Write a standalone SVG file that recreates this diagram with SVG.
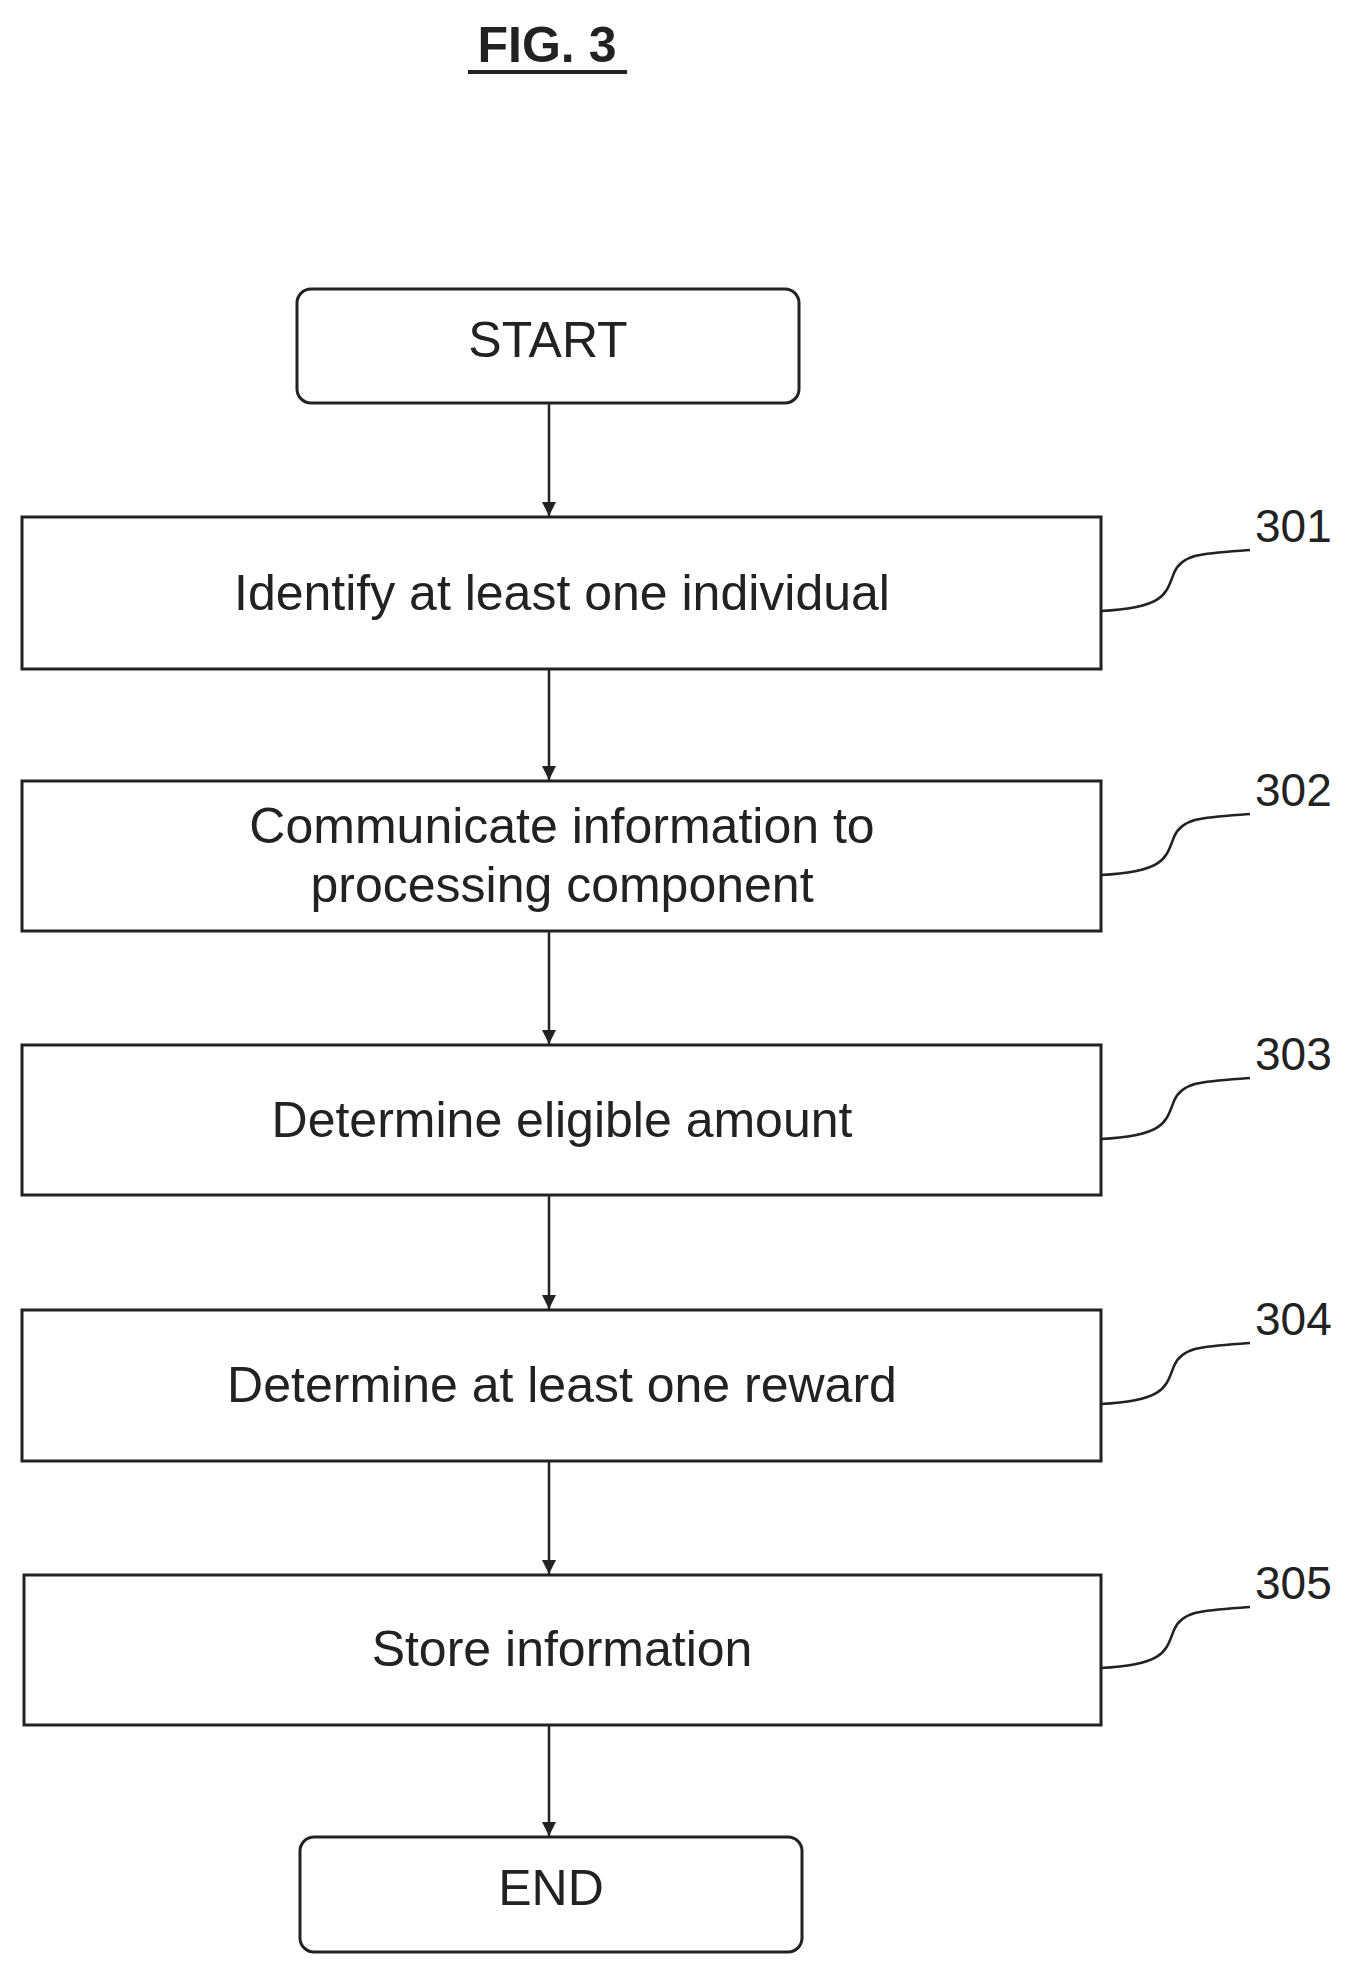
<svg xmlns="http://www.w3.org/2000/svg" width="1358" height="1973" viewBox="0 0 1358 1973">
<defs>
<style>
.b{fill:#fff;stroke:#222;stroke-width:3}
.t{font-family:"Liberation Sans",Arial,sans-serif;font-size:50px;fill:#222;text-anchor:middle}
.n{font-family:"Liberation Sans",Arial,sans-serif;font-size:46px;fill:#222}
.c{fill:none;stroke:#222;stroke-width:2.5}
</style>
<marker id="a" markerWidth="16" markerHeight="16" refX="14" refY="7" orient="auto" markerUnits="userSpaceOnUse" viewBox="0 0 16 14"><path d="M0,0 L14,7 L0,14 Z" fill="#222"/></marker>
</defs>
<rect width="1358" height="1973" fill="#fff"/>
<g id="title"><text x="547" y="62" class="t" style="font-weight:bold;font-size:50px">FIG. 3</text><line x1="468" y1="72" x2="627" y2="72" stroke="#222" stroke-width="4"/></g>
<g id="connectors">
<line class="c" x1="549" y1="403" x2="549" y2="516" marker-end="url(#a)"/>
<line class="c" x1="549" y1="669" x2="549" y2="780" marker-end="url(#a)"/>
<line class="c" x1="549" y1="931" x2="549" y2="1044" marker-end="url(#a)"/>
<line class="c" x1="549" y1="1195" x2="549" y2="1309" marker-end="url(#a)"/>
<line class="c" x1="549" y1="1461" x2="549" y2="1574" marker-end="url(#a)"/>
<line class="c" x1="549" y1="1725" x2="549" y2="1836" marker-end="url(#a)"/>
</g>
<g id="start"><rect class="b" x="297" y="289" width="502" height="114" rx="14"/><text class="t" x="548" y="357">START</text></g>
<g id="s301"><rect class="b" x="22" y="517" width="1079" height="152"/><text class="t" x="562" y="610">Identify at least one individual</text>
<path class="c" d="M1101,611 C1166,608 1166,593 1174,573 C1182,553 1206,553 1250,550"/><text class="n" x="1255" y="542">301</text></g>
<g id="s302"><rect class="b" x="22" y="781" width="1079" height="150"/><text class="t" x="562" y="843">Communicate information to</text><text class="t" x="562" y="902">processing component</text>
<path class="c" d="M1101,875 C1166,872 1166,857 1174,837 C1182,817 1206,817 1250,814"/><text class="n" x="1255" y="806">302</text></g>
<g id="s303"><rect class="b" x="22" y="1045" width="1079" height="150"/><text class="t" x="562" y="1137">Determine eligible amount</text>
<path class="c" d="M1101,1139 C1166,1136 1166,1121 1174,1101 C1182,1081 1206,1081 1250,1078"/><text class="n" x="1255" y="1070">303</text></g>
<g id="s304"><rect class="b" x="22" y="1310" width="1079" height="151"/><text class="t" x="562" y="1402">Determine at least one reward</text>
<path class="c" d="M1101,1404 C1166,1401 1166,1386 1174,1366 C1182,1346 1206,1346 1250,1343"/><text class="n" x="1255" y="1335">304</text></g>
<g id="s305"><rect class="b" x="24" y="1575" width="1077" height="150"/><text class="t" x="562" y="1666">Store information</text>
<path class="c" d="M1101,1668 C1166,1665 1166,1650 1174,1630 C1182,1610 1206,1610 1250,1607"/><text class="n" x="1255" y="1599">305</text></g>
<g id="end"><rect class="b" x="300" y="1837" width="502" height="115" rx="14"/><text class="t" x="551" y="1905">END</text></g>
</svg>
